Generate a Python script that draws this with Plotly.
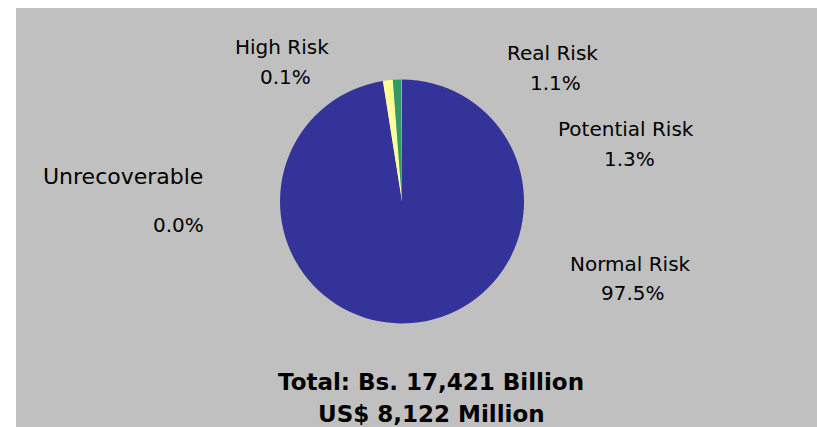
import plotly.graph_objects as go

# Loan portfolio by risk category (share of total, %)
categories = ["Normal Risk", "Potential Risk", "Real Risk", "High Risk", "Unrecoverable"]
shares = [97.5, 1.3, 1.1, 0.1, 0.0]
slice_colors = ["#333399", "#FFFF99", "#339966", "#FF8080", "#993366"]

total_lines = ["Total: Bs. 17,421 Billion", "US$ 8,122 Million"]

W, H = 817, 427


def px(x):
    return x / W


def py(y):
    return 1 - y / H


fig = go.Figure()

fig.add_trace(go.Pie(
    labels=categories,
    values=shares,
    sort=False,
    direction="clockwise",
    rotation=0,
    marker=dict(colors=slice_colors, line=dict(width=0)),
    textinfo="none",
    hoverinfo="label+percent",
    showlegend=False,
    domain=dict(x=[px(280), px(524)], y=[py(323.5), py(79.5)]),
))

# label anchors: (name x, name y, value x, value y, xanchor)
label_pos = {
    "Normal Risk": (630, 264, 633, 293, "center"),
    "Potential Risk": (626, 129, 629, 159, "center"),
    "Real Risk": (552, 53, 555, 83, "center"),
    "High Risk": (282, 47, 285, 77, "center"),
    "Unrecoverable": (205, 176, 206, 225, "right"),
}

annotations = []
label_font = dict(family="DejaVu Sans", size=20, color="#000000")
for name, val in zip(categories, shares):
    nx, ny, vx, vy, anchor = label_pos[name]
    size = 22 if name == "Unrecoverable" else 20
    annotations.append(dict(x=px(nx), y=py(ny), xref="paper", yref="paper",
                            text=name, showarrow=False, xanchor=anchor,
                            yanchor="middle", font=dict(label_font, size=size)))
    annotations.append(dict(x=px(vx), y=py(vy), xref="paper", yref="paper",
                            text=f"{val:.1f}%", showarrow=False, xanchor=anchor,
                            yanchor="middle", font=label_font))

total_font = dict(family="DejaVu Sans", size=23, color="#000000", weight="bold")
for line, yy in zip(total_lines, [382, 414]):
    annotations.append(dict(x=px(431), y=py(yy), xref="paper", yref="paper",
                            text=f"<b>{line}</b>", showarrow=False,
                            xanchor="center", yanchor="middle", font=total_font))

# white frame strips along the top and left edges of the grey panel
frame = [
    dict(type="rect", xref="paper", yref="paper", x0=0, x1=1, y0=py(8), y1=1,
         fillcolor="#FFFFFF", line=dict(width=0), layer="below"),
    dict(type="rect", xref="paper", yref="paper", x0=0, x1=px(16), y0=0, y1=1,
         fillcolor="#FFFFFF", line=dict(width=0), layer="below"),
]

fig.update_layout(
    width=W,
    height=H,
    margin=dict(l=0, r=0, t=0, b=0),
    paper_bgcolor="#C0C0C0",
    shapes=frame,
    annotations=annotations,
)

fig.write_html("out.html")
